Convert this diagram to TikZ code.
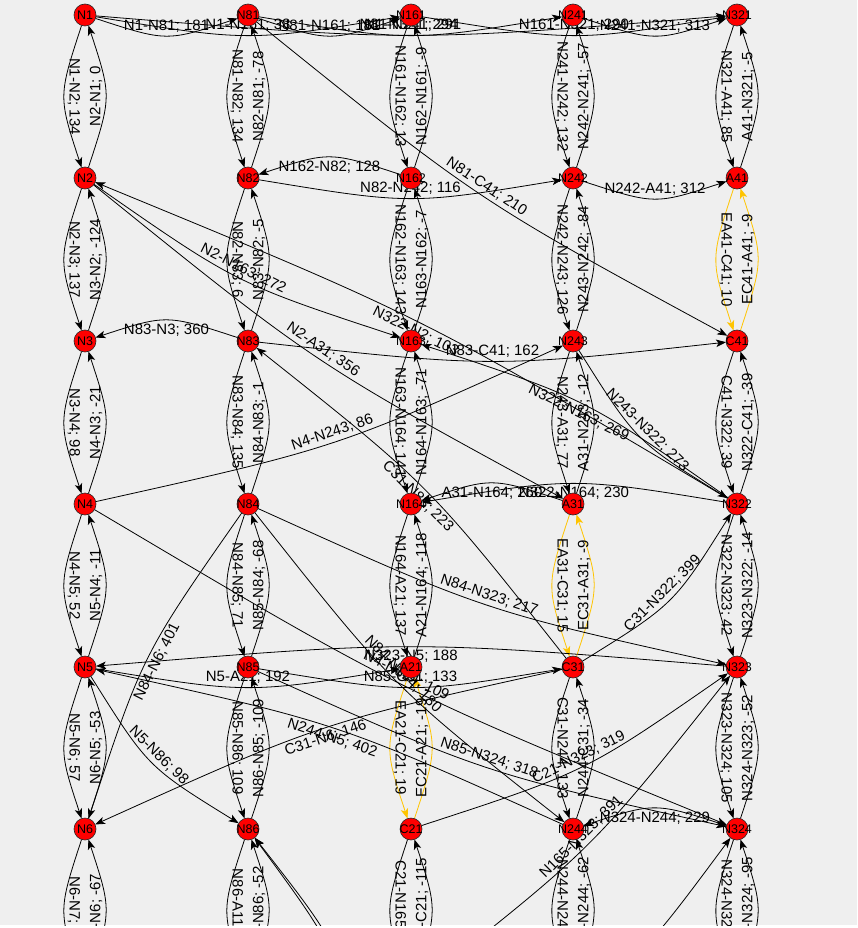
\documentclass[tikz,border=0pt]{standalone}
\usepackage{fontspec}
\setmainfont{Liberation Sans}
\usetikzlibrary{calc,arrows.meta}
\definecolor{bg}{RGB}{239,239,239}
\definecolor{ylw}{RGB}{255,196,0}
\tikzset{
  inv/.style={circle,minimum size=22pt,inner sep=0pt,outer sep=0pt},
  ndc/.style={circle,minimum size=22pt,inner sep=0pt,fill=red,draw=black!85,line width=0.6pt},
  ndt/.style={inner sep=0pt,font=\fontsize{12.5}{13}\selectfont},
  edge/.style={draw=black,line width=0.8pt,-{Stealth[length=10pt,width=7.5pt,inset=2.5pt]}},
  yedge/.style={edge,draw=ylw},
  lab/.style={sloped,font=\fontsize{15}{16}\selectfont,inner sep=3.2pt,text=black},
  up/.style={above},
  dn/.style={below},
  vt/.style={above,allow upside down},
}
\newcommand\nn[3]{\node[inv] (#1) at (#2pt,-#3pt) {};}
\newcommand\vn[1]{\node[ndc] at (#1) {}; \node[ndt] at (#1) {#1};}
\newcommand\ed[5][edge]{\draw[#1] (#2) .. controls ($(#2)!0.5!(#3)!26.7pt!-90:(#3)$) .. (#3) node[lab,pos=0.5,#5]{#4};}
\begin{document}
\begin{tikzpicture}
\useasboundingbox (0,0) rectangle (857pt,-928pt);
\fill[white] (0,0) rectangle (857pt,-928pt);
\fill[bg] (0,0) rectangle (857pt,-925pt);
\clip (0,0) rectangle (857pt,-925pt);
% nodes (invisible, for names)
\nn{N1}{85}{15}\nn{N2}{85}{178}\nn{N3}{85}{341}\nn{N4}{85}{504}\nn{N5}{85}{667}\nn{N6}{85}{829}\nn{N7}{85}{992}
\nn{N81}{248}{15}\nn{N82}{248}{178}\nn{N83}{248}{341}\nn{N84}{248}{504}\nn{N85}{248}{667}\nn{N86}{248}{829}\nn{A11}{248}{992}
\nn{N161}{411}{15}\nn{N162}{411}{178}\nn{N163}{411}{341}\nn{N164}{411}{504}\nn{A21}{411}{667}\nn{C21}{411}{829}\nn{N165}{411}{992}
\nn{N241}{573}{15}\nn{N242}{573}{178}\nn{N243}{573}{341}\nn{A31}{573}{504}\nn{C31}{573}{667}\nn{N244}{573}{829}\nn{N245}{573}{992}
\nn{N321}{737}{15}\nn{A41}{737}{178}\nn{C41}{737}{341}\nn{N322}{737}{504}\nn{N323}{737}{667}\nn{N324}{737}{829}\nn{N325}{737}{992}
\nn{X1}{375}{1090}\nn{X2}{383}{1087}\nn{X3}{500}{1060}
% column lenses
\ed{N1}{N2}{N1-N2; 134}{vt}\ed{N2}{N1}{N2-N1; 0}{vt}
\ed{N2}{N3}{N2-N3; 137}{vt}\ed{N3}{N2}{N3-N2; -124}{vt}
\ed{N3}{N4}{N3-N4; 98}{vt}\ed{N4}{N3}{N4-N3; -21}{vt}
\ed{N4}{N5}{N4-N5; 52}{vt}\ed{N5}{N4}{N5-N4; -11}{vt}
\ed{N5}{N6}{N5-N6; 57}{vt}\ed{N6}{N5}{N6-N5; -53}{vt}
\ed{N6}{N7}{N6-N7; 43}{vt}\ed{N7}{N6}{N7-N6; -67}{vt}
\ed{N81}{N82}{N81-N82; 134}{vt}\ed{N82}{N81}{N82-N81; -78}{vt}
\ed{N82}{N83}{N82-N83; 6}{vt}\ed{N83}{N82}{N83-N82; -5}{vt}
\ed{N83}{N84}{N83-N84; 135}{vt}\ed{N84}{N83}{N84-N83; -1}{vt}
\ed{N84}{N85}{N84-N85; 71}{vt}\ed{N85}{N84}{N85-N84; -68}{vt}
\ed{N85}{N86}{N85-N86; 109}{vt}\ed{N86}{N85}{N86-N85; -109}{vt}
\ed{N86}{A11}{N86-A11; 52}{vt}\ed{A11}{N86}{A11-N86; -52}{vt}
\ed{N161}{N162}{N161-N162; 13}{vt}\ed{N162}{N161}{N162-N161; -9}{vt}
\ed{N162}{N163}{N162-N163; 143}{vt}\ed{N163}{N162}{N163-N162; -7}{vt}
\ed{N163}{N164}{N163-N164; 141}{vt}\ed{N164}{N163}{N164-N163; -71}{vt}
\ed{N164}{A21}{N164-A21; 137}{vt}\ed{A21}{N164}{A21-N164; -118}{vt}
\ed[yedge]{A21}{C21}{EA21-C21; 19}{vt}\ed[yedge]{C21}{A21}{EC21-A21; -19}{vt}
\ed{C21}{N165}{C21-N165; 115}{vt}\ed{N165}{C21}{N165-C21; -115}{vt}
\ed{N241}{N242}{N241-N242; 132}{vt}\ed{N242}{N241}{N242-N241; -57}{vt}
\ed{N242}{N243}{N242-N243; 126}{vt}\ed{N243}{N242}{N243-N242; -84}{vt}
\ed{N243}{A31}{N243-A31; 77}{vt}\ed{A31}{N243}{A31-N243; -12}{vt}
\ed[yedge]{A31}{C31}{EA31-C31; 15}{vt}\ed[yedge]{C31}{A31}{EC31-A31; -9}{vt}
\ed{C31}{N244}{C31-N244; 133}{vt}\ed{N244}{C31}{N244-C31; -34}{vt}
\ed{N244}{N245}{N244-N245; 62}{vt}\ed{N245}{N244}{N245-N244; -62}{vt}
\ed{N321}{A41}{N321-A41; 85}{vt}\ed{A41}{N321}{A41-N321; -5}{vt}
\ed[yedge]{A41}{C41}{EA41-C41; 10}{vt}\ed[yedge]{C41}{A41}{EC41-A41; -9}{vt}
\ed{C41}{N322}{C41-N322; 39}{vt}\ed{N322}{C41}{N322-C41; -39}{vt}
\ed{N322}{N323}{N322-N323; 42}{vt}\ed{N323}{N322}{N323-N322; -14}{vt}
\ed{N323}{N324}{N323-N324; 105}{vt}\ed{N324}{N323}{N324-N323; -52}{vt}
\ed{N324}{N325}{N324-N325; 95}{vt}\ed{N325}{N324}{N325-N324; -95}{vt}
% top row
\ed{N1}{N81}{N1-N81; 181}{up}
\ed{N1}{N161}{N1-N161; 38}{up}
\ed{N81}{N161}{N81-N161; 181}{up}
\ed{N81}{N241}{N81-N241; 291}{up}
\ed{N1}{N321}{N1-N321; 294}{up}
\ed{N161}{N321}{N161-N321; 290}{up}
\ed{N241}{N321}{N241-N321; 313}{up}
% others
\ed{N162}{N82}{N162-N82; 128}{dn}
\ed{N82}{N242}{N82-N242; 116}{up}
\ed{N242}{A41}{N242-A41; 312}{up}
\ed{N81}{C41}{N81-C41; 210}{up}
\ed{N2}{N163}{N2-N163; 272}{up}
\ed{N2}{A31}{N2-A31; 356}{up}
\ed{N322}{N2}{N322-N2; 103}{dn}
\ed{N83}{N3}{N83-N3; 360}{dn}
\ed{N83}{C41}{N83-C41; 162}{up}
\ed{N4}{N243}{N4-N243; 86}{up}
\ed{N243}{N322}{N243-N322; 273}{up}
\ed{N322}{N163}{N322-N163; 269}{dn}
\ed{A31}{N164}{A31-N164; 260}{dn}
\ed{N322}{N164}{N322-N164; 230}{dn}
\ed{N84}{N323}{N84-N323; 217}{up}
\ed{N84}{N6}{N84-N6; 401}{dn}
\ed{N5}{N86}{N5-N86; 98}{up}
\ed{C31}{N322}{C31-N322; 399}{up}
\ed{C31}{N83}{C31-N83; 223}{dn}
\ed{N5}{A21}{N5-A21; 192}{up}
\ed{N323}{N5}{N323-N5; 188}{dn}
\ed{N85}{C31}{N85-C31; 133}{up}
\ed{N244}{N5}{N244-N5; 402}{dn}
\ed{C31}{N6}{C31-N6; 146}{dn}
\ed{N85}{N324}{N85-N324; 318}{up}
\ed{C21}{N323}{C21-N323; 319}{up}
\ed{N165}{N323}{N165-N323; 391}{up}
\ed{N324}{N244}{N324-N244; 229}{dn}
\ed{N4}{N324}{N4-N324; 109}{up}
\ed{N84}{N244}{N84-N244; 180}{up}
\ed{X1}{N86}{}{up}\ed{X2}{N86}{}{up}\ed{X3}{N324}{}{up}
% visible nodes
\foreach \n in {N1,N2,N3,N4,N5,N6,N81,N82,N83,N84,N85,N86,N161,N162,N163,N164,A21,C21,N241,N242,N243,A31,C31,N244,N321,A41,C41,N322,N323,N324}{\vn{\n}}
\end{tikzpicture}
\end{document}
